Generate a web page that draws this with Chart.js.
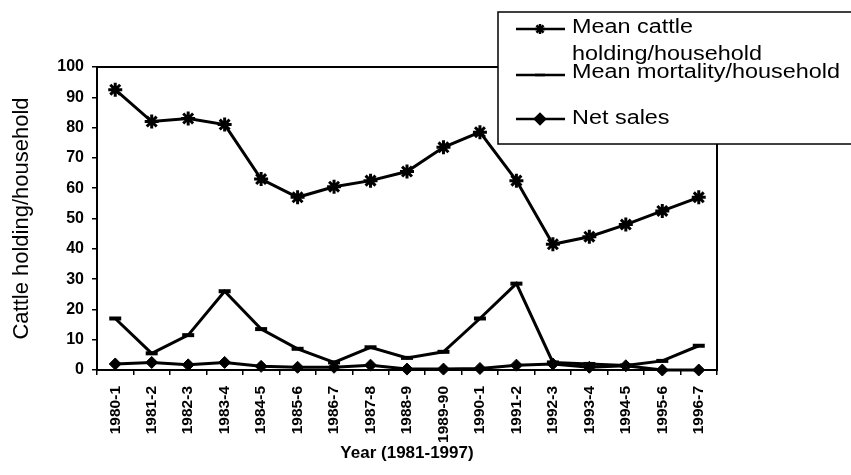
<!DOCTYPE html>
<html>
<head>
<meta charset="utf-8">
<script src="https://cdn.jsdelivr.net/npm/chart.js@4"></script>
<style>
  html, body { margin: 0; padding: 0; background: #fff; }
  #wrap { width: 851px; height: 475px; }
</style>
</head>
<body>
<div id="wrap"><canvas id="myChart"></canvas></div>
<script>
// data
const years = ['1980-1', '1981-2', '1982-3', '1983-4', '1984-5', '1985-6', '1986-7', '1987-8', '1988-9',
  '1989-90', '1990-1', '1991-2', '1992-3', '1993-4', '1994-5', '1995-6', '1996-7'];
const cattleHolding = [92.5, 82, 83, 81, 63, 57, 60.5, 62.5, 65.5, 73.5, 78.5, 62.5, 41.5, 44, 48, 52.5, 57];
const mortality = [17, 5.5, 11.5, 26, 13.5, 7, 2.5, 7.5, 4, 6, 17, 28.5, 2.5, 2, 1.5, 3, 8];
const netSales = [2, 2.5, 1.7, 2.5, 1.2, 0.9, 0.9, 1.6, 0.3, 0.3, 0.5, 1.6, 2, 0.9, 1.4, 0, 0];
const yTicks = [0, 100, 10];

const legendItems = [
  { lines: ['Mean cattle', 'holding/household'], style: 'star', lineY: 29, textY: [27, 54] },
  { lines: ['Mean mortality/household'], style: 'line', lineY: 75, textY: [72] },
  { lines: ['Net sales'], style: 'rectRot', lineY: 119, textY: [118] }
];

// plot frame + legend box
const framePlugin = {
  id: 'frame',
  beforeDatasetsDraw(chart) {
    const a = chart.chartArea, c = chart.ctx;
    c.save();
    c.strokeStyle = '#000';
    c.lineWidth = 2;
    c.strokeRect(a.left, a.top, a.right - a.left, a.bottom - a.top);
    c.restore();
  },
  afterDraw(chart) {
    const c = chart.ctx;
    c.save();
    c.fillStyle = '#fff';
    c.fillRect(498, 12, 380, 132);
    c.strokeStyle = '#000';
    c.lineWidth = 1.5;
    c.strokeRect(498, 12, 380, 132);
    c.font = '20px "Liberation Sans", Arial, sans-serif';
    c.fillStyle = '#000';
    c.textBaseline = 'middle';
    const sx = 268 / c.measureText('Mean mortality/household').width;
    legendItems.forEach(it => {
      c.lineWidth = 2.5;
      c.beginPath();
      c.moveTo(516, it.lineY);
      c.lineTo(565, it.lineY);
      c.stroke();
      Chart.helpers.drawPoint(c, { pointStyle: it.style, radius: 5, rotation: 0, borderWidth: 3 }, 540, it.lineY);
      if (it.style === 'rectRot') { c.fill(); }
      it.lines.forEach((t, i) => {
        c.save();
        c.translate(572, it.textY[i]);
        c.scale(sx, 1);
        c.fillText(t, 0, 0);
        c.restore();
      });
    });
    c.restore();
  }
};

const ctx = document.getElementById('myChart');

function series(label, data, style, radius, bw) {
  return {
    label: label,
    data: data,
    borderColor: '#000',
    backgroundColor: '#000',
    borderWidth: 3,
    pointStyle: style,
    pointRadius: radius,
    pointBorderWidth: bw,
    pointBackgroundColor: '#000',
    pointBorderColor: '#000',
    tension: 0,
    clip: false
  };
}

new Chart(ctx, {
  type: 'line',
  data: {
    labels: years,
    datasets: [
      series('Mean cattle holding/household', cattleHolding, 'star', 7, 3),
      series('Mean mortality/household', mortality, 'line', 6, 4),
      series('Net sales', netSales, 'rectRot', 6, 1)
    ]
  },
  options: {
    responsive: true,
    maintainAspectRatio: false,
    animation: false,
    layout: { padding: { top: 67, right: 134, left: 0, bottom: 0 } },
    plugins: {
      legend: { display: false },
      tooltip: { enabled: false }
    },
    scales: {
      x: {
        offset: true,
        grid: { offset: true, drawOnChartArea: false, drawTicks: true, tickLength: 5, color: '#000', lineWidth: 1.5 },
        border: { display: false },
        ticks: {
          minRotation: 90, maxRotation: 90, autoSkip: false, padding: 11, color: '#000',
          font: { family: '"Liberation Sans", Arial, sans-serif', size: 15.5, weight: 'bold' }
        },
        title: {
          display: true, text: 'Year (1981-1997)', color: '#000',
          font: { family: '"Liberation Sans", Arial, sans-serif', size: 17, weight: 'bold' },
          padding: { top: 0, bottom: 11 }
        },
        afterFit(scale) { scale.height = 105; }
      },
      y: {
        min: yTicks[0], max: yTicks[1],
        grid: { drawOnChartArea: false, drawTicks: true, tickLength: 5, color: '#000', lineWidth: 1.5 },
        border: { display: false },
        ticks: {
          stepSize: yTicks[2], padding: 8, color: '#000',
          font: { family: '"Liberation Sans", Arial, sans-serif', size: 16, weight: 'bold' }
        },
        title: {
          display: true, text: 'Cattle holding/household', color: '#000',
          font: { family: '"Liberation Sans", Arial, sans-serif', size: 22 },
          padding: { top: 9, bottom: 0 }
        },
        afterFit(scale) { scale.width = 97; }
      }
    }
  },
  plugins: [framePlugin]
});
</script>
</body>
</html>
